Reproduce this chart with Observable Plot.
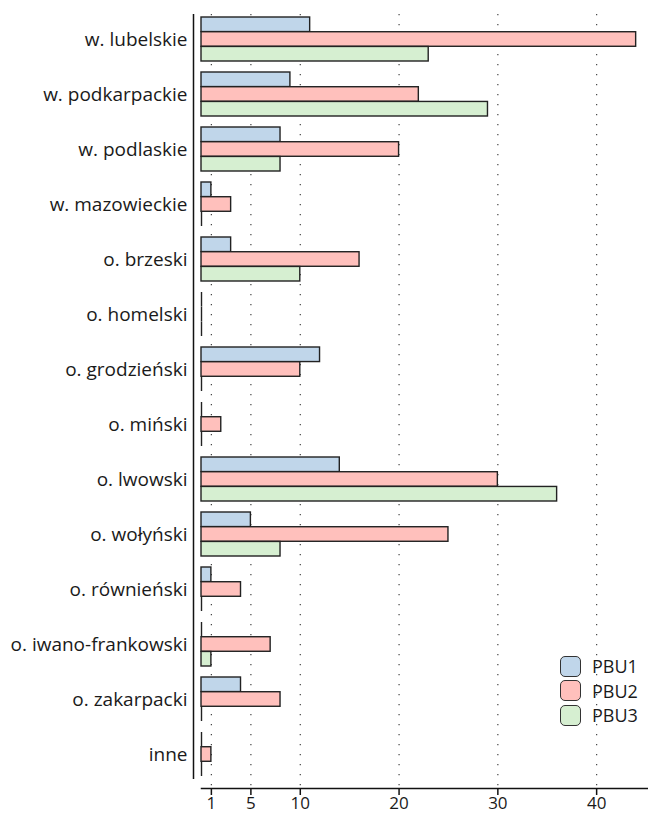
<!DOCTYPE html>
<html>
<head>
<meta charset="utf-8">
<script src="https://cdn.jsdelivr.net/npm/d3@7"></script>
<script src="https://cdn.jsdelivr.net/npm/@observablehq/plot@0.6"></script>
<style>
  body { margin: 0; background: #fff; }
  #wrap { position: relative; width: 648px; height: 813px; overflow: hidden; font-family: "Open Sans", sans-serif; }
  #legend { position: absolute; left: 560px; top: 654px; }
  .li { display: flex; align-items: center; height: 24.5px; }
  .sw { width: 19px; height: 19px; border: 1.5px solid #333; border-radius: 5px; margin-right: 11px; box-sizing: content-box; }
  .lt { font-size: 18px; color: #1a1a1a; }
</style>
</head>
<body>
<div id="wrap"></div>
<script>
const categories = ["w. lubelskie","w. podkarpackie","w. podlaskie","w. mazowieckie","o. brzeski","o. homelski","o. grodzieński","o. miński","o. lwowski","o. wołyński","o. równieński","o. iwano-frankowski","o. zakarpacki","inne"];
const seriesNames = ["PBU1","PBU2","PBU3"];
const pbu1 = [11,9,8,1,3,0,12,0,14,5,1,0,4,0];
const pbu2 = [44,22,20,3,16,0,10,2,30,25,4,7,8,1];
const pbu3 = [23,29,8,0,10,0,0,0,36,8,0,1,0,0];
const xTicks = [1,5,10,20,30,40];
const colors = ["#c0d6ea","#ffc0bc","#d6efd1"];

const values = [pbu1, pbu2, pbu3];
const rows = [];
seriesNames.forEach((s, si) => categories.forEach((c, ci) => rows.push({series: s, si, category: c, value: values[si][ci]})));

const W = 648, H = 813, mTop = 4, mBottom = 25, mLeft = 201, mRight = 0;
const pad = 0.2;
const step = (H - mTop - mBottom) / (categories.length + pad);
const sub = step * (1 - pad) / 3;

const marks = [
  Plot.ruleX(xTicks, {x: d => d, stroke: "#444", strokeWidth: 1.2, strokeDasharray: "1.2,8.8", insetTop: 10})
];
seriesNames.forEach((s, si) => {
  const d = rows.filter(r => r.si === si);
  const it = sub * si, ib = sub * (2 - si);
  marks.push(Plot.barX(d.filter(r => r.value > 0), {x: "value", y: "category", fill: colors[si], stroke: "#222", strokeWidth: 1.4, insetTop: it, insetBottom: ib}));
  marks.push(Plot.tickX(d.filter(r => r.value === 0), {x: "value", y: "category", stroke: "#222", strokeWidth: 1.4, insetTop: it, insetBottom: ib}));
});
marks.push(
  Plot.ruleX([0], {dx: -8, stroke: "#111", strokeWidth: 1.5, insetTop: 10, insetBottom: 9}),
  Plot.frame({anchor: "bottom", stroke: "#111", strokeWidth: 1.5}),
  Plot.axisX({ticks: xTicks, tickSize: 7, tickPadding: 1, tickFormat: d => String(d), fontSize: 17, stroke: "#111", strokeWidth: 1.5, label: null}),
  Plot.axisY({tickSize: 0, tickPadding: 14, fontSize: 19, label: null})
);

const chart = Plot.plot({
  width: W, height: H,
  marginTop: mTop, marginBottom: mBottom, marginLeft: mLeft, marginRight: mRight,
  style: {fontFamily: "Open Sans, sans-serif", color: "#1a1a1a", background: "#fff", overflow: "visible"},
  x: {domain: [0, 45.25]},
  y: {domain: categories, padding: pad},
  marks
});
const wrap = document.getElementById("wrap");
wrap.appendChild(chart);

const legend = document.createElement("div");
legend.id = "legend";
seriesNames.forEach((s, si) => {
  const li = document.createElement("div"); li.className = "li";
  const sw = document.createElement("div"); sw.className = "sw"; sw.style.background = colors[si];
  const lt = document.createElement("span"); lt.className = "lt"; lt.textContent = s;
  li.appendChild(sw); li.appendChild(lt); legend.appendChild(li);
});
wrap.appendChild(legend);
</script>
</body>
</html>
